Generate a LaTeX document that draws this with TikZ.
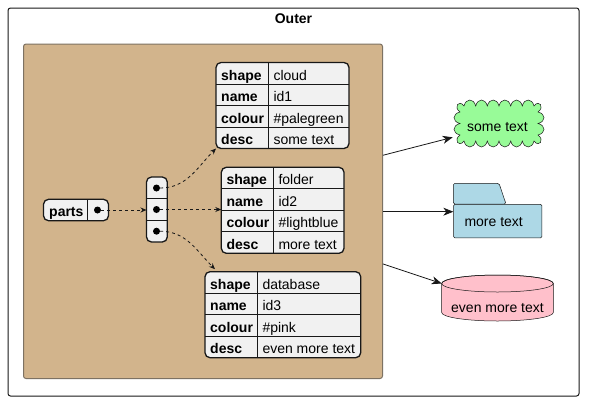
\documentclass[tikz,border=0pt]{standalone}
\usepackage{fontspec}
\setmainfont{Liberation Sans}
\usetikzlibrary{arrows.meta}
\definecolor{ink}{HTML}{181818}
\definecolor{tanc}{HTML}{D2B48C}
\definecolor{tanborder}{HTML}{7D7263}
\definecolor{cellbg}{HTML}{F1F1F1}
\definecolor{palegreenc}{HTML}{98FB98}
\definecolor{lightbluec}{HTML}{ADD8E6}
\definecolor{pinkc}{HTML}{FFC0CB}
\newcommand{\kvtab}[9]{%
  \begin{scope}[shift={(#2,#3)}]
    \node[tbl, minimum width=#5, minimum height=86, anchor=north west] (#1) at (0,0) {};
    \draw[ink, line width=0.8] (#4,0) -- (#4,86)
      (0,21.5) -- (#5,21.5) (0,43) -- (#5,43) (0,64.5) -- (#5,64.5);
    \node[key] (#1k1) at (5,17.5) {shape};
    \node[key] (#1k2) at (5,39) {name};
    \node[key] (#1k3) at (5,60.5) {colour};
    \node[key] (#1k4) at (5,82) {desc};
    \node[val] (#1v1) at (#4+5,17.5) {#6};
    \node[val] (#1v2) at (#4+5,39) {#7};
    \node[val] (#1v3) at (#4+5,60.5) {#8};
    \node[val] (#1v4) at (#4+5,82) {#9};
  \end{scope}}
\newcommand{\hb}[3]{.. controls +(2,#3) and (#1-2,#2+#3) .. (#1,#2)}
\newcommand{\vb}[3]{.. controls +(#3,2) and (#1+#3,#2-2) .. (#1,#2)}
\newcommand{\hbl}[3]{.. controls +(-2,#3) and (#1+2,#2+#3) .. (#1,#2)}
\newcommand{\vbu}[3]{.. controls +(#3,-2) and (#1+#3,#2+2) .. (#1,#2)}
\begin{document}
\begin{tikzpicture}[x=1pt,y=-1pt,
  tbl/.style={draw=ink, fill=cellbg, line width=1.3, rounded corners=5, inner sep=0, outer sep=0},
  key/.style={anchor=base west, inner sep=0, font=\fontsize{14}{16}\selectfont\bfseries},
  val/.style={anchor=base west, inner sep=0, font=\fontsize{14}{16}\selectfont},
  dotm/.style={circle, fill=black, inner sep=0, minimum size=7},
  darr/.style={draw=ink, line width=0.8, dash pattern=on 3pt off 3pt, -{Stealth[length=6pt,width=5pt]}},
  sarr/.style={draw=ink, line width=0.8, -{Stealth[length=10pt,width=8pt,inset=3pt]}},
  shp/.style={draw=ink, line width=0.5}]
\useasboundingbox (0,0) rectangle (591,408);
\fill[white] (0,0) rectangle (591,408);
% outer frame
\node[draw=ink, line width=1, rounded corners=2.5, minimum width=571, minimum height=388, anchor=north west, inner sep=0] (outer) at (7.5,7.5) {};
\node[key, anchor=base] (outertitle) at (293.5,23.5) {Outer};
% inner tan box
\node[draw=tanborder, fill=tanc, line width=1, rounded corners=2.5, minimum width=359, minimum height=334.5, anchor=north west, inner sep=0] (inner) at (23,43.5) {};
% parts
\node[tbl, minimum width=65, minimum height=21.4, anchor=north west] (parts) at (43.5,199.3) {};
\draw[ink, line width=0.8] (87.7,199.3) -- (87.7,220.7);
\node[key] (partst) at (49,216) {parts};
\node[dotm] (pdot) at (97.5,210) {};
% array
\node[tbl, minimum width=20.8, minimum height=65, anchor=north west] (arr) at (146.5,177) {};
\draw[ink, line width=0.8] (146.5,198.7) -- (167.3,198.7) (146.5,220.3) -- (167.3,220.3);
\node[dotm] (d1) at (156.5,188) {};
\node[dotm] (d2) at (156.5,209.5) {};
\node[dotm] (d3) at (156.5,231.2) {};
% tables
\kvtab{t1}{216}{62.5}{52.3}{133}{cloud}{id1}{\#palegreen}{some text}
\kvtab{t2}{221.3}{167.3}{52}{122.7}{folder}{id2}{\#lightblue}{more text}
\kvtab{t3}{205}{271.7}{52.3}{155.7}{database}{id3}{\#pink}{even more text}
% dashed arrows
\draw[darr] (pdot) -- (arr.west |- pdot);
\draw[darr] (d1) to[out=0,in=225] (t1.south west);
\draw[darr] (d2) -- (d2 -| t2.west);
\coordinate (t3in) at ([xshift=10pt,yshift=2.5pt]t3.north west);
\draw[darr] (d3) to[out=0,in=135] (t3in);
% cloud
\draw[shp, fill=palegreenc] (464,106)
  \hb{475.7}{106}{-8} \hb{487.3}{106}{-8} \hb{499}{106}{-8} \hb{510.7}{106}{-8}
  \hb{522.3}{106}{-8} \hb{534}{106}{-8}
  .. controls (539,99) and (545,107) .. (538,112)
  \vb{538}{123.5}{8} \vb{538}{135}{8}
  .. controls (545,140) and (539,148) .. (534,141)
  \hbl{522.3}{141}{8} \hbl{510.7}{141}{8} \hbl{499}{141}{8} \hbl{487.3}{141}{8}
  \hbl{475.7}{141}{8} \hbl{464}{141}{8}
  .. controls (459,148) and (453,140) .. (460,135)
  \vbu{460}{123.5}{-8} \vbu{460}{112}{-8}
  .. controls (453,107) and (459,99) .. (464,106) -- cycle;
\node[inner sep=0, minimum width=90, minimum height=47] (cl) at (499,123.5) {};
\node[val, anchor=base] (clt) at (497.5,131) {some text};
% folder
\draw[shp, fill=lightbluec, rounded corners=1.5] (453.3,204) -- (453.3,183.3) -- (499,183.3) -- (506,204) -- cycle;
\node[shp, fill=lightbluec, rounded corners=1.5, minimum width=88.4, minimum height=33.7, anchor=north west, inner sep=0] (fold) at (453.3,204) {};
\node[val] (foldt) at (464.3,226) {more text};
% cylinder
\draw[shp, fill=pinkc] (441.7,283.5) -- (441.7,312.5) arc[start angle=180, end angle=0, x radius=55.8, y radius=8.5] -- (553.3,283.5) arc[start angle=0, end angle=-180, x radius=55.8, y radius=8.5] -- cycle;
\draw[shp] (497.5,283.5) ellipse[x radius=55.8, y radius=8.5];
\node[inner sep=0, minimum width=111.6, minimum height=46] (db) at (497.5,298) {};
\node[val, anchor=base] (dbt) at (497.5,312.7) {even more text};
% solid arrows
\coordinate (clin) at (452.7,137.3);
\coordinate (fin) at (453.3,211.7);
\coordinate (dbin) at (441.7,283.5);
\draw[sarr] ([yshift=56pt]inner.east) -- (clin);
\draw[sarr] (inner.east |- fin) -- (fin);
\draw[sarr] ([yshift=-52.7pt]inner.east) -- (dbin);
\end{tikzpicture}
\end{document}
